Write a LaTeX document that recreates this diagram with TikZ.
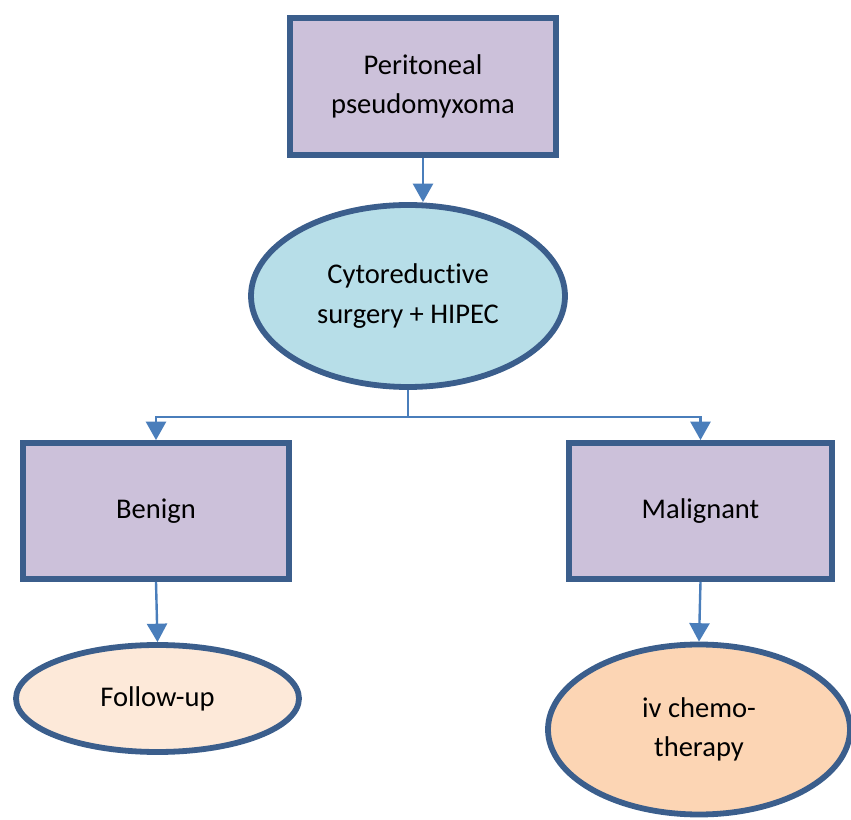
\documentclass[tikz,border=0pt]{standalone}
\usepackage{fontspec}
\setmainfont{Carlito}[Ligatures=NoCommon]
\usepackage{tikz}
\usetikzlibrary{shapes, arrows.meta, positioning, calc}
\definecolor{boxlilac}{HTML}{CCC1DA}
\definecolor{boxline}{HTML}{3B5E8C}
\definecolor{arrowblue}{HTML}{4A7EBB}
\definecolor{pastelblue}{HTML}{B7DEE8}
\definecolor{pastelpeach}{HTML}{FDE9D9}
\definecolor{pastelorange}{HTML}{FCD5B4}

\begin{document}
\begin{tikzpicture}[x=0.025cm, y=-0.025cm,
		every node/.style={font=\fontsize{20.3}{28}\selectfont, align=center, inner sep=0pt},
		stage/.style={draw=boxline, line width=0.145cm, fill=boxlilac, rectangle},
		treat/.style={draw=boxline, line width=0.145cm, ellipse},
		link/.style={draw=arrowblue, line width=0.06cm, -{Triangle[width=0.5cm, length=0.46cm]}}]
		\clip (0,0) rectangle (851,820);
		\useasboundingbox (0,0) rectangle (851,820);
		
		\node[stage, minimum width=266*0.025cm, minimum height=137*0.025cm] (pmp) at (423,86.5) {Peritoneal\\pseudomyxoma};
		\node[treat, fill=pastelblue, minimum width=314*0.025cm, minimum height=182*0.025cm] (crs) at (408,296) {Cytoreductive\\surgery + HIPEC};
		
		\node[stage, minimum width=266*0.025cm, minimum height=136*0.025cm] (benign) at (156,511) {Benign};
		\node[stage, minimum width=263*0.025cm, minimum height=136*0.025cm] (malig) at (700.5,511) {Malignant};
		
		\node[treat, fill=pastelpeach, minimum width=283*0.025cm, minimum height=107*0.025cm] (fup) at (157.5,698.5) {Follow-up};
		\node[treat, fill=pastelorange, minimum width=302*0.025cm, minimum height=170*0.025cm] (chemo) at (699,729.5) {iv chemo-\\therapy};
		
		\coordinate (split) at (crs.south |- 0,417);
		\draw[link] (pmp.south) -- (crs.north -| pmp.south);
		\draw[draw=arrowblue, line width=0.06cm] (crs.south) -- (split);
		\draw[link] (split) -| (benign.north);
		\draw[link] (split) -| (malig.north);
		\draw[link] (benign.south) -- (fup.north);
		\draw[link] (malig.south) -- (chemo.north);
\end{tikzpicture}
\end{document}
